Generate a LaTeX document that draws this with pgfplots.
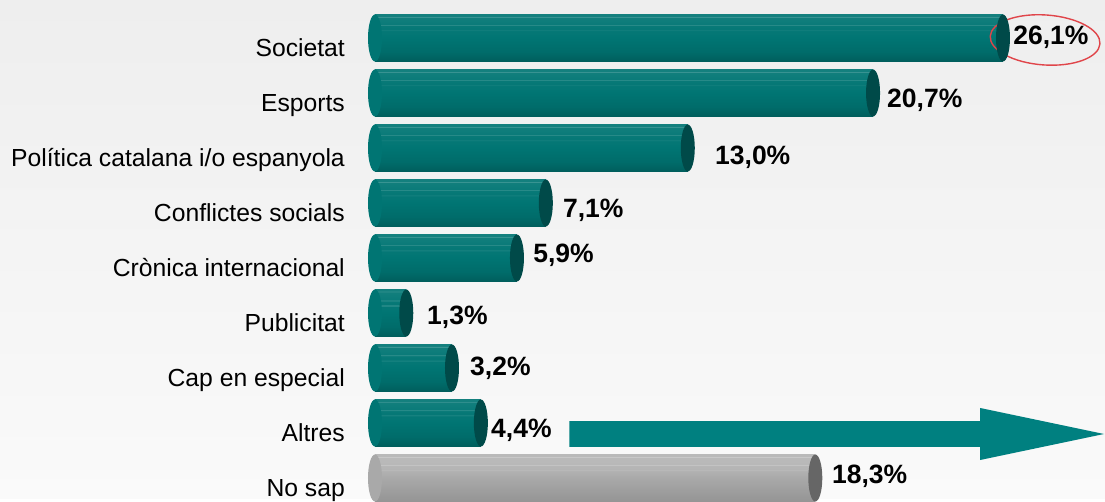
\documentclass[border=0pt]{standalone}
\usepackage{pgfplots}
\pgfplotsset{compat=1.18}
\usepackage{fontspec}
\setmainfont{Liberation Sans}
\usetikzlibrary{backgrounds}
\definecolor{tealmid}{HTML}{007573}
\definecolor{tealcap}{HTML}{004A49}
\definecolor{arrowteal}{HTML}{008080}
\definecolor{greymid}{HTML}{A9A9A9}
\definecolor{greycap}{HTML}{666666}
\definecolor{ringred}{HTML}{E0454A}
\pgfdeclareverticalshading{tealcyl}{100bp}{%
 color(0bp)=(tealmid!80!black); color(25bp)=(tealmid!80!black);
 color(35bp)=(tealmid!92!black); color(50bp)=(tealmid);
 color(57.5bp)=(tealmid!98!white); color(58bp)=(tealmid!75!white); color(58.6bp)=(tealmid!98!white);
 color(63bp)=(tealmid!97!white); color(63.5bp)=(tealmid!72!white); color(64.1bp)=(tealmid!96!white);
 color(72bp)=(tealmid!93!white); color(72.5bp)=(tealmid!70!white); color(73.1bp)=(tealmid!92!white);
 color(75bp)=(tealmid!92!white); color(100bp)=(tealmid!92!white)}
\pgfdeclareverticalshading{greycyl}{100bp}{%
 color(0bp)=(greymid!88!black); color(25bp)=(greymid!88!black);
 color(40bp)=(greymid!95!black); color(50bp)=(greymid);
 color(57.5bp)=(greymid!90!white); color(58bp)=(greymid!55!white); color(58.6bp)=(greymid!88!white);
 color(63bp)=(greymid!85!white); color(63.5bp)=(greymid!55!white); color(64.1bp)=(greymid!83!white);
 color(72bp)=(greymid!80!white); color(72.5bp)=(greymid!55!white); color(73.1bp)=(greymid!80!white);
 color(75bp)=(greymid!80!white); color(100bp)=(greymid!80!white)}
\pgfdeclareplotmark{cylcap}{%
 \pgfpathellipse{\pgfpointorigin}{\pgfqpoint{7pt}{0pt}}{\pgfqpoint{0pt}{23.5pt}}%
 \pgfusepathqfill}
\pgfplotsset{
  tealbar/.style={xbar, bar width=47pt, bar shift=0pt, draw=none, shading=tealcyl},
  greybar/.style={xbar, bar width=47pt, bar shift=0pt, draw=none, shading=greycyl},
}
\begin{document}
\begin{tikzpicture}
\begin{axis}[
  scale only axis,
  width=738pt, height=499pt,
  xmin=-0.3325, xmax=30.34,
  ymin=-0.3818, ymax=8.6909,
  clip=false,
  hide x axis,
  axis line style={draw=none},
  tick style={draw=none},
  major tick length=0pt,
  ytick={0,1,2,3,4,5,6,7,8},
  yticklabels={No sap, Altres, Cap en especial, Publicitat, Crònica internacional, Conflictes socials, Política catalana i/o espanyola, Esports, Societat},
  yticklabel style={anchor=base east, inner sep=0pt, xshift=-22pt, yshift=-18.5pt,
    font=\fontsize{24.7}{28}\selectfont, text=black},
]
% left rounded ends
\addplot[only marks, mark=cylcap, mark options={fill=tealmid, draw=none}]
  coordinates {(0,8) (0,7) (0,6) (0,5) (0,4) (0,3) (0,2) (0,1)};
\addplot[only marks, mark=cylcap, mark options={fill=greymid, draw=none}]
  coordinates {(0,0)};
% bars (one plot per bar so each gets its own cylinder shading)
\addplot[tealbar] coordinates {(26.1,8)};
\addplot[tealbar] coordinates {(20.7,7)};
\addplot[tealbar] coordinates {(13.0,6)};
\addplot[tealbar] coordinates {(7.1,5)};
\addplot[tealbar] coordinates {(5.9,4)};
\addplot[tealbar] coordinates {(1.3,3)};
\addplot[tealbar] coordinates {(3.2,2)};
\addplot[tealbar] coordinates {(4.4,1)};
\addplot[greybar] coordinates {(18.3,0)};
% end caps
\addplot[only marks, mark=cylcap, mark options={fill=tealcap, draw=none}]
  coordinates {(26.1,8) (20.7,7) (13.0,6) (7.1,5) (5.9,4) (1.3,3) (3.2,2) (4.4,1)};
\addplot[only marks, mark=cylcap, mark options={fill=greycap, draw=none}]
  coordinates {(18.3,0)};
% value labels
\addplot[only marks, mark=*, mark size=0pt, mark options={opacity=0, draw=none, fill=none},
  nodes near coords, point meta=explicit symbolic,
  nodes near coords style={anchor=base west, inner sep=0pt, opacity=1,
    font=\bfseries\fontsize{26.5}{30}\selectfont, text=black}]
  table[meta=lab] {
x y lab
26.52 7.873 26,1\%
21.28 6.745 20,7\%
14.13 5.691 13,0\%
7.81 4.745 7,1\%
6.57 3.927 5,9\%
2.16 2.782 1,3\%
3.95 1.855 3,2\%
4.82 0.745 4,4\%
18.99 -0.091 18,3\%
};
% arrow
\fill[arrowteal] (axis cs:8.08,1.036) -- (axis cs:25.15,1.036) -- (axis cs:25.15,1.273)
  -- (axis cs:30.30,0.8) -- (axis cs:25.15,0.327) -- (axis cs:25.15,0.564)
  -- (axis cs:8.08,0.564) -- cycle;
% highlight ring
\draw[ringred, line width=1.4pt, rotate around={-4:(axis cs:27.85,7.964)}]
  (axis cs:27.85,7.964) ellipse [x radius=55pt, y radius=25pt];
\end{axis}
\begin{scope}[on background layer]
\shade[top color={rgb,255:red,238;green,238;blue,238}, bottom color={rgb,255:red,250;green,250;blue,250}]
  ([xshift=-367pt]current axis.south west) rectangle (current axis.north east);
\end{scope}
\end{tikzpicture}
\end{document}
